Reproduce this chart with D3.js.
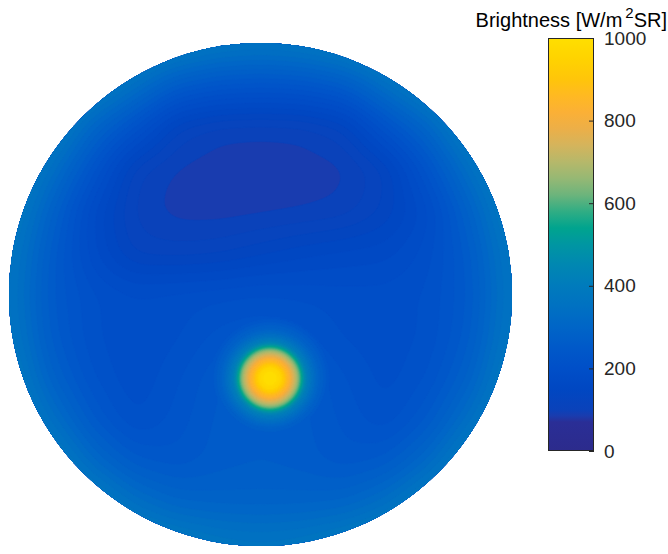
<!DOCTYPE html>
<html>
<head>
<meta charset="utf-8">
<script src="https://cdn.jsdelivr.net/npm/d3@7"></script>
<style>
  body { margin: 0; background: #fff; }
  svg { display: block; }
</style>
</head>
<body>
<svg id="chart" width="668" height="554"></svg>
<script>
// Sky grid in projected zenith-angle coordinates (degrees): x east-west, y top-to-bottom
const gridDeg = [-90, -75, -60, -45, -30, -15, 0, 15, 30, 45, 60, 75, 90];

// Background sky brightness [W/m^2 SR] on the grid above (rows top to bottom)
const skyBrightness = [
  [570, 530, 490, 448, 410, 380, 370, 380, 410, 448, 490, 530, 570],
  [530, 478, 418, 340, 260, 232, 225, 232, 260, 340, 418, 478, 530],
  [490, 418, 300, 218, 122, 100,  97, 100, 122, 220, 300, 418, 490],
  [448, 340, 225, 112,  91,  84,  83,  84,  89, 122, 225, 340, 448],
  [410, 285, 170, 104,  86,  85,  88,  92,  99, 128, 180, 285, 410],
  [380, 258, 175, 118, 115, 120, 135, 150, 160, 165, 195, 258, 380],
  [370, 250, 205, 190, 195, 200, 205, 200, 195, 195, 205, 250, 370],
  [380, 258, 205, 190, 200, 225, 235, 225, 200, 195, 205, 258, 380],
  [410, 285, 218, 190, 215, 250, 262, 255, 220, 195, 218, 285, 410],
  [448, 340, 250, 200, 225, 255, 265, 255, 230, 205, 250, 340, 448],
  [490, 418, 315, 255, 240, 258, 265, 258, 240, 255, 315, 418, 490],
  [530, 478, 418, 340, 300, 292, 290, 292, 300, 340, 418, 478, 530],
  [570, 530, 490, 448, 410, 380, 370, 380, 410, 448, 490, 530, 570]
];

// Sun position (degrees, same frame) and circumsolar brightness profile
const sunPosition = [3.4, 30.0];
const sunDistance   = [0,    2,   3.5, 4.5, 5.5, 7,   8,   9,   10,  11,  12,  13,  14.3, 16,  18,  21.5];
const sunBrightness = [1000, 990, 960, 930, 880, 820, 760, 710, 640, 560, 480, 420, 375,  320, 280, 230];

// Colour map of the brightness scale
const colorStops = [0, 70, 85, 100, 150, 200, 250, 300, 350, 400, 450, 500, 540, 580, 620, 660, 700, 740, 780, 820, 860, 900, 950, 1000];
const colorStopColors = ['#2c2b8c', '#2a2e96', '#1a3cae', '#0a42ba', '#0047c2', '#004fc8', '#0059c9', '#0065c7',
  '#0071c2', '#007bbc', '#0087b2', '#0096a2', '#00a48e', '#30ad84', '#6cb47c', '#96b874', '#b6b86a', '#d4b45c',
  '#ecaf48', '#fbb036', '#ffb922', '#ffc50a', '#ffd300', '#ffdf00'];
const colorTicks = [0, 200, 400, 600, 800, 1000];
const colorDomain = [0, 1000];
const titleMain = 'Brightness [W/m';
const titleSup = '2';
const titleEnd = 'SR]';

const FONT = '"Liberation Sans", Arial, Helvetica, sans-serif';
const svg = d3.select('#chart');

// Sky disc geometry
const cx = 260.5, cy = 294.5, R = 251.5;
const xPix = d3.scaleLinear().domain([-90, 90]).range([cx - R, cx + R]);
const yPix = d3.scaleLinear().domain([-90, 90]).range([cy - R, cy + R]);
const gridIndex = d3.scaleLinear().domain([gridDeg[0], gridDeg[gridDeg.length - 1]])
  .range([0, gridDeg.length - 1]).clamp(true);

const color = d3.scaleLinear().domain(colorStops).range(colorStopColors).interpolate(d3.interpolateRgb).clamp(true);
const sunProfile = d3.scaleLinear().domain(sunDistance).range(sunBrightness).clamp(true);

// Bilinear lookup in the sky grid
function skyAt(dx, dy) {
  const last = gridDeg.length - 1;
  const gx = gridIndex(dx), gy = gridIndex(dy);
  const ix = Math.min(Math.floor(gx), last - 1), iy = Math.min(Math.floor(gy), last - 1);
  const tx = gx - ix, ty = gy - iy;
  const r0 = skyBrightness[iy], r1 = skyBrightness[iy + 1];
  const top = r0[ix] + (r0[ix + 1] - r0[ix]) * tx;
  const bot = r1[ix] + (r1[ix + 1] - r1[ix]) * tx;
  return top + (bot - top) * ty;
}

// Separable box blur (in place), repeated to approach a smooth kernel
function boxBlur(a, w, h, r, passes) {
  const tmp = new Float64Array(Math.max(w, h));
  for (let p = 0; p < passes; p++) {
    for (let y = 0; y < h; y++) {
      for (let x = 0; x < w; x++) {
        let s = 0;
        for (let k = -r; k <= r; k++) s += a[y * w + Math.max(0, Math.min(w - 1, x + k))];
        tmp[x] = s / (2 * r + 1);
      }
      for (let x = 0; x < w; x++) a[y * w + x] = tmp[x];
    }
    for (let x = 0; x < w; x++) {
      for (let y = 0; y < h; y++) {
        let s = 0;
        for (let k = -r; k <= r; k++) s += a[Math.max(0, Math.min(h - 1, y + k)) * w + x];
        tmp[y] = s / (2 * r + 1);
      }
      for (let y = 0; y < h; y++) a[y * w + x] = tmp[y];
    }
  }
}

// Sample the field on a fine raster covering the disc
const step = 2, margin = 30;
const x0 = cx - R - margin, y0 = cy - R - margin;
const n = Math.ceil((2 * R + 2 * margin) / step) + 1;
const values = new Float64Array(n * n);
for (let j = 0; j < n; j++) {
  for (let i = 0; i < n; i++) {
    values[j * n + i] = skyAt(xPix.invert(x0 + i * step), yPix.invert(y0 + j * step));
  }
}
boxBlur(values, n, n, 5, 3);
for (let j = 0; j < n; j++) {
  for (let i = 0; i < n; i++) {
    const dx = xPix.invert(x0 + i * step), dy = yPix.invert(y0 + j * step);
    const d = Math.hypot(dx - sunPosition[0], dy - sunPosition[1]);
    if (d <= sunDistance[sunDistance.length - 1]) {
      values[j * n + i] = Math.max(values[j * n + i], sunProfile(d));
    }
  }
}

const levelStep = (colorDomain[1] - colorDomain[0]) / 64;
const levels = d3.range(colorDomain[0], colorDomain[1], levelStep);
const contours = d3.contours().size([n, n]).thresholds(levels)(values);
const path = d3.geoPath(d3.geoIdentity().scale(step).translate([x0 - step / 2, y0 - step / 2]));

const defs = svg.append('defs');
defs.append('clipPath').attr('id', 'sky-clip')
  .append('circle').attr('cx', cx).attr('cy', cy).attr('r', R);

svg.append('g').attr('clip-path', 'url(#sky-clip)')
  .selectAll('path').data(contours).join('path')
  .attr('d', path)
  .attr('fill', d => color(d.value + levelStep / 2))
  .attr('stroke', d => color(d.value + levelStep / 2))
  .attr('stroke-width', 0.6);

// Colour bar
const cbX = 548, cbW = 46, cbTop = 38, cbBottom = 451;
const cbScale = d3.scaleLinear().domain(colorDomain).range([cbBottom, cbTop]);
const grad = defs.append('linearGradient').attr('id', 'cb-grad')
  .attr('x1', 0).attr('y1', 1).attr('x2', 0).attr('y2', 0);
grad.selectAll('stop').data(colorStops).join('stop')
  .attr('offset', d => (d - colorDomain[0]) / (colorDomain[1] - colorDomain[0]))
  .attr('stop-color', d => color(d));

svg.append('rect')
  .attr('x', cbX).attr('y', cbTop).attr('width', cbW).attr('height', cbBottom - cbTop)
  .attr('fill', 'url(#cb-grad)');

const axis = d3.axisRight(cbScale).tickValues(colorTicks).tickFormat(d3.format('d'))
  .tickSizeInner(-5).tickSizeOuter(0).tickPadding(10);
const gAxis = svg.append('g').attr('transform', `translate(${cbX + cbW},0)`).call(axis);
gAxis.select('.domain').remove();
gAxis.attr('font-family', FONT).attr('font-size', 19);
gAxis.selectAll('text').attr('fill', '#262626');
gAxis.selectAll('line').attr('stroke', '#262626');

svg.append('rect')
  .attr('x', cbX + 0.5).attr('y', cbTop + 0.5).attr('width', cbW - 1).attr('height', cbBottom - cbTop - 1)
  .attr('fill', 'none').attr('stroke', '#262626').attr('stroke-width', 1);

// Colour bar title
const title = svg.append('text')
  .attr('x', 667).attr('y', 27).attr('text-anchor', 'end')
  .attr('font-family', FONT).attr('font-size', 20).attr('fill', '#000');
title.append('tspan').text(titleMain);
title.append('tspan').attr('dx', 3).attr('dy', -9).attr('font-size', 15).text(titleSup);
title.append('tspan').attr('dy', 9).text(titleEnd);
</script>
</body>
</html>
